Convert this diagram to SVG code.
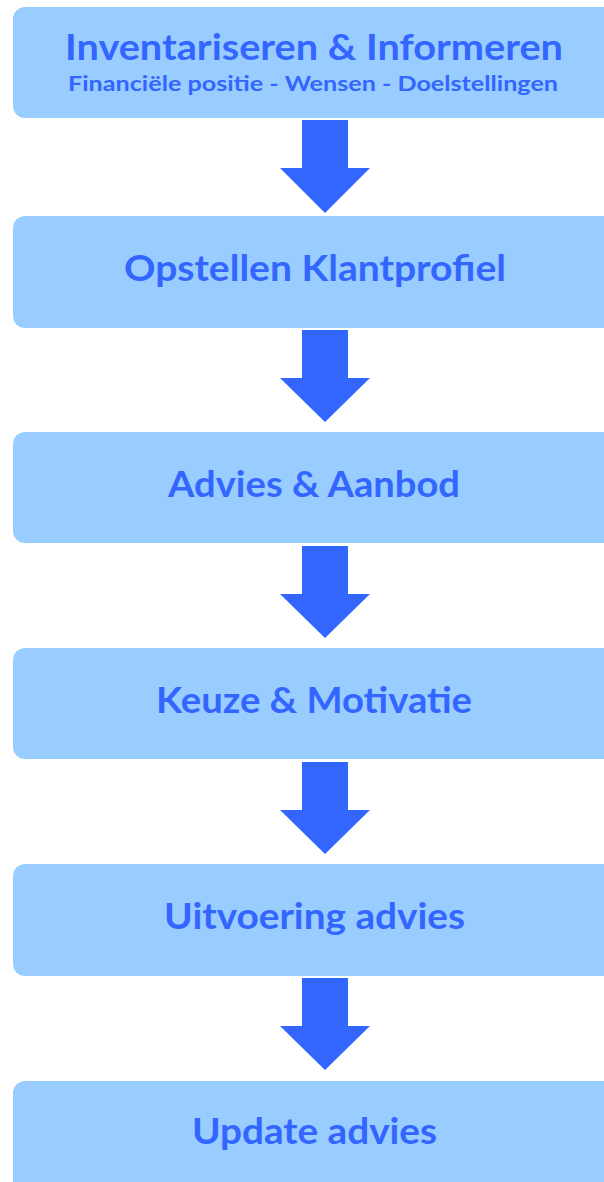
<svg xmlns="http://www.w3.org/2000/svg" width="604" height="1182" viewBox="0 0 604 1182">
<style>
.box{fill:#99CCFF;}
.t{font-family:Lato,"DejaVu Sans",sans-serif;font-weight:bold;fill:#3366FF;font-size:36px;text-anchor:middle;}
.s{font-size:21px;}
.arr{fill:#3366FF;}
</style>
<rect width="604" height="1182" fill="#FFFFFF"/>
<g id="node1">
<rect class="box" x="13" y="7" width="620" height="111" rx="12"/>
<text class="t" x="314" y="60" textLength="498" lengthAdjust="spacingAndGlyphs">Inventariseren &amp; Informeren</text>
<text class="t s" x="313" y="91" textLength="490" lengthAdjust="spacingAndGlyphs">Financiële positie - Wensen - Doelstellingen</text>
</g>
<g id="node2">
<rect class="box" x="13" y="216" width="620" height="112" rx="12"/>
<text class="t" x="315" y="281" textLength="382" lengthAdjust="spacingAndGlyphs">Opstellen Klantprofiel</text>
</g>
<g id="node3">
<rect class="box" x="13" y="432" width="620" height="111" rx="12"/>
<text class="t" x="314" y="497" textLength="292" lengthAdjust="spacingAndGlyphs">Advies &amp; Aanbod</text>
</g>
<g id="node4">
<rect class="box" x="13" y="648" width="620" height="111" rx="12"/>
<text class="t" x="314" y="713" textLength="316" lengthAdjust="spacingAndGlyphs">Keuze &amp; Motivatie</text>
</g>
<g id="node5">
<rect class="box" x="13" y="864" width="620" height="112" rx="12"/>
<text class="t" x="314.5" y="929" textLength="301" lengthAdjust="spacingAndGlyphs">Uitvoering advies</text>
</g>
<g id="node6">
<rect class="box" x="13" y="1081" width="620" height="130" rx="12"/>
<text class="t" x="314.5" y="1144" textLength="245" lengthAdjust="spacingAndGlyphs">Update advies</text>
</g>
<g id="connectors">
<polygon class="arr" points="302,120 348,120 348,168 370,168 325,213 280,168 302,168"/>
<polygon class="arr" points="302,330 348,330 348,378 370,378 325,422 280,378 302,378"/>
<polygon class="arr" points="302,546 348,546 348,594 370,594 325,638 280,594 302,594"/>
<polygon class="arr" points="302,762 348,762 348,810 370,810 325,854 280,810 302,810"/>
<polygon class="arr" points="302,978 348,978 348,1026 370,1026 325,1070 280,1026 302,1026"/>
</g>
</svg>
